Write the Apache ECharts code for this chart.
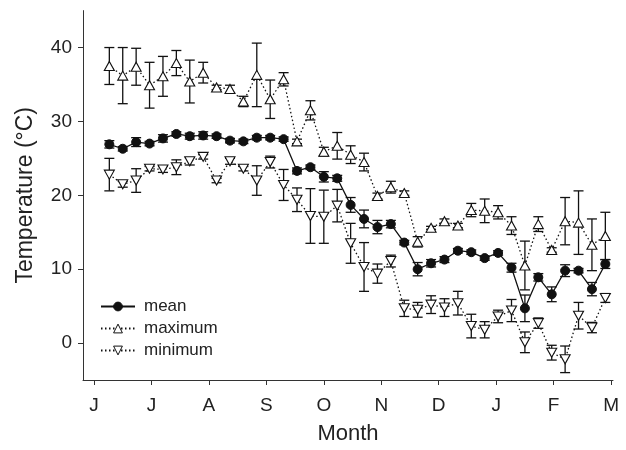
<!DOCTYPE html>
<html>
<head>
<meta charset="utf-8">
<script src="https://cdn.jsdelivr.net/npm/echarts@6/dist/echarts.min.js"></script>
<style>
  html, body { margin: 0; padding: 0; background: #fff; }
  #chart { width: 626px; height: 450px; }
</style>
</head>
<body>
<div id="chart"></div>
<script>
// sampling day, counted from 1 June (month ticks every 30 days)
let days = [8, 15, 22, 29, 36, 43, 50, 57, 64, 71, 78, 85, 92, 99, 106, 113, 120, 127, 134,
  141, 148, 155, 162, 169, 176, 183, 190, 197, 204, 211, 218, 225, 232, 239, 246, 253, 260, 267]
let monthLabels = ['J', 'J', 'A', 'S', 'O', 'N', 'D', 'J', 'F', 'M']
let monthTicks = [0, 30, 60, 90, 120, 150, 180, 210, 240, 270]
let yTicks = [0, 10, 20, 30, 40]

// weekly temperature (°C) and its error
let meanT = [26.9, 26.3, 27.2, 27.0, 27.7, 28.3, 28.0, 28.1, 28.0, 27.4, 27.3, 27.8, 27.8, 27.6,
  23.3, 23.8, 22.5, 22.3, 18.7, 16.8, 15.7, 16.1, 13.6, 10.0, 10.8, 11.3, 12.5, 12.3, 11.5,
  12.2, 10.2, 4.7, 8.9, 6.6, 9.8, 9.8, 7.3, 10.7]
let meanErr = [0.5, 0.3, 0.6, 0.3, 0.5, 0.3, 0.4, 0.5, 0.3, 0.3, 0.3, 0.3, 0.3, 0.3,
  0.4, 0.3, 0.7, 0.4, 1.0, 1.2, 0.9, 0.5, 0.3, 0.9, 0.5, 0.4, 0.3, 0.3, 0.3,
  0.3, 0.6, 1.8, 0.5, 1.0, 0.8, 0.3, 0.9, 0.6]
let maxT = [37.5, 36.2, 37.4, 34.9, 36.1, 37.9, 35.4, 36.6, 34.6, 34.4, 32.7, 36.3, 33.0, 35.7,
  27.3, 31.5, 25.9, 26.7, 25.5, 24.5, 19.9, 21.1, 20.3, 13.7, 15.6, 16.5, 15.9, 18.0, 17.9,
  17.7, 15.9, 10.5, 16.1, 12.6, 16.5, 16.3, 13.3, 14.5]
let maxErr = [2.5, 3.8, 2.5, 3.1, 2.7, 1.7, 2.9, 1.4, 0.3, 0.5, 0.7, 4.3, 2.6, 0.9,
  0.3, 1.3, 0.6, 1.8, 1.2, 1.2, 0.4, 0.8, 0.3, 0.7, 0.2, 0.3, 0.3, 0.9, 1.6,
  0.9, 1.2, 3.3, 1.0, 0.3, 3.2, 4.3, 3.5, 3.2]
let minT = [22.8, 21.5, 22.0, 23.6, 23.5, 23.8, 24.6, 25.2, 22.0, 24.6, 23.6, 22.0, 24.5, 21.4,
  19.4, 17.2, 17.1, 18.6, 13.5, 10.3, 9.4, 11.1, 4.7, 4.5, 5.2, 4.8, 5.4, 2.3, 1.8,
  3.6, 4.4, 0.1, 2.7, -1.3, -2.2, 3.7, 2.1, 6.1]
let minErr = [2.2, 0.4, 1.6, 0.3, 0.4, 1.0, 0.5, 0.3, 0.3, 0.4, 0.3, 2.0, 0.8, 2.1,
  1.6, 3.7, 3.6, 2.2, 2.7, 3.3, 1.3, 0.8, 1.1, 1.0, 1.2, 1.2, 1.6, 1.6, 1.1,
  0.85, 1.5, 1.4, 0.7, 1.0, 1.8, 1.8, 0.7, 0.6]

let myChart = echarts.init(document.getElementById('chart'))
let font = 'Liberation Sans, Arial, sans-serif'

function points (vals) {
  return vals.map((v, i) => [days[i], v])
}
function bars (vals, errs) {
  return vals.map((v, i) => [days[i], v - errs[i], v + errs[i]])
}
// 误差线：竖线加上下两个短横
function renderBar (params, api) {
  let lo = api.coord([api.value(0), api.value(1)])
  let hi = api.coord([api.value(0), api.value(2)])
  let w = 5
  let style = { stroke: '#111', lineWidth: 1.3 }
  return {
    type: 'group',
    children: [
      { type: 'line', shape: { x1: lo[0], y1: lo[1], x2: hi[0], y2: hi[1] }, style: style },
      { type: 'line', shape: { x1: lo[0] - w, y1: lo[1], x2: lo[0] + w, y2: lo[1] }, style: style },
      { type: 'line', shape: { x1: hi[0] - w, y1: hi[1], x2: hi[0] + w, y2: hi[1] }, style: style }
    ]
  }
}
function errSeries (vals, errs) {
  return {
    type: 'custom',
    renderItem: renderBar,
    data: bars(vals, errs),
    encode: { x: 0, y: [1, 2] },
    z: 1,
    silent: true
  }
}
let dotted = { color: '#111', width: 1.3, type: [1.5, 2.5] }
let hollow = { color: '#fff', borderColor: '#111', borderWidth: 1.1 }

myChart.setOption({
  animation: false,
  backgroundColor: '#fff',
  textStyle: { fontFamily: font },
  grid: { left: 83, right: 13, top: 10.6, bottom: 65.6 },
  legend: {
    data: ['mean', 'maximum', 'minimum'],
    orient: 'vertical',
    left: 95,
    top: 293,
    itemWidth: 34,
    itemHeight: 11,
    itemGap: 5,
    itemStyle: { borderWidth: 1 },
    textStyle: { fontSize: 17, color: '#222', fontFamily: font, padding: [0, 0, 0, 4] }
  },
  xAxis: {
    type: 'value',
    min: -5.75,
    max: 271,
    name: 'Month',
    nameLocation: 'middle',
    nameGap: 43,
    nameTextStyle: { fontSize: 22, color: '#222' },
    axisLine: { onZero: false, lineStyle: { color: '#333', width: 1 } },
    axisTick: { customValues: monthTicks, length: 5, lineStyle: { color: '#333' } },
    axisLabel: {
      customValues: monthTicks,
      margin: 16,
      fontSize: 19,
      color: '#222',
      formatter: v => monthLabels[Math.round(v / 30)]
    },
    splitLine: { show: false }
  },
  yAxis: {
    type: 'value',
    min: -5,
    max: 45,
    name: 'Temperature (°C)',
    nameLocation: 'middle',
    nameGap: 46,
    nameTextStyle: { fontSize: 23, color: '#222' },
    axisLine: { show: true, onZero: false, lineStyle: { color: '#333', width: 1 } },
    axisTick: { show: true, customValues: yTicks, length: 5, lineStyle: { color: '#333' } },
    axisLabel: { customValues: yTicks, margin: 11, fontSize: 19, color: '#222' },
    splitLine: { show: false }
  },
  series: [
    errSeries(maxT, maxErr),
    errSeries(minT, minErr),
    errSeries(meanT, meanErr),
    {
      name: 'maximum',
      type: 'line',
      data: points(maxT),
      symbol: 'triangle',
      symbolSize: [10, 9],
      showAllSymbol: true,
      lineStyle: dotted,
      itemStyle: hollow,
      z: 3
    },
    {
      name: 'minimum',
      type: 'line',
      data: points(minT),
      symbol: 'triangle',
      symbolRotate: 180,
      symbolSize: [10, 9],
      showAllSymbol: true,
      lineStyle: dotted,
      itemStyle: hollow,
      z: 3
    },
    {
      name: 'mean',
      type: 'line',
      data: points(meanT),
      symbol: 'circle',
      symbolSize: 9,
      showAllSymbol: true,
      lineStyle: { color: '#111', width: 1.3 },
      itemStyle: { color: '#111', borderColor: '#111' },
      z: 4
    }
  ]
})
window.addEventListener('resize', function () {
  myChart.resize()
})
</script>
</body>
</html>
